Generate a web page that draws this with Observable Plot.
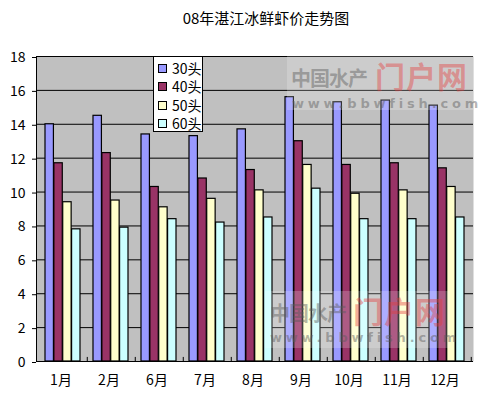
<!DOCTYPE html>
<html>
<head>
<meta charset="utf-8">
<script src="https://cdn.jsdelivr.net/npm/d3@7"></script>
<script src="https://cdn.jsdelivr.net/npm/@observablehq/plot@0.6"></script>
<style>
  html, body { margin: 0; padding: 0; background: #fff; }
  #wrap { position: relative; width: 498px; height: 399px; overflow: hidden; font-family: "Noto Sans CJK SC", sans-serif; }
  #title { position: absolute; top: 7px; left: 266px; transform: translateX(-50%); font-size: 15px; white-space: nowrap; color: #000; }
  #chart { position: absolute; left: 0; top: 0; }
  #legend { position: absolute; left: 153px; top: 56px; width: 48px; height: 74px; border: 1px solid #000; background: #fff; }
  .li { position: absolute; left: 4px; height: 18px; line-height: 18px; font-size: 14px; white-space: nowrap; }
  .sw { display: inline-block; width: 7px; height: 7px; border: 1px solid #000; margin-right: 5px; vertical-align: 1px; }
  .wm { position: absolute; background: rgba(255,255,255,0.2); pointer-events: none; }
  .wm div { white-space: nowrap; line-height: 1; }
  .wm .a { position: absolute; font-weight: bold; color: rgba(90,90,90,0.45); font-size: 20px; letter-spacing: -1px; }
  .wm .b { position: absolute; font-weight: bold; color: rgba(230,60,60,0.42); font-size: 30px; letter-spacing: 1px; }
  .wm .c { position: absolute; font-weight: bold; color: rgba(90,90,90,0.45); font-size: 13px; letter-spacing: 3.8px; font-family: "DejaVu Sans", sans-serif; }
</style>
</head>
<body>
<div id="wrap">
  <div id="chart"></div>
  <div id="title">08年湛江冰鲜虾价走势图</div>
  <div id="legend"></div>
  <div class="wm" style="left:287px;top:56px;width:186px;height:54px;">
    <div class="a" style="left:4px;top:12px;">中国水产</div>
    <div class="b" style="left:88px;top:4px;">门户网</div>
    <div class="c" style="left:5px;top:41px;">www.bbwfish.com</div>
  </div>
  <div class="wm" style="left:265px;top:291px;width:185px;height:57px;">
    <div class="a" style="left:5px;top:12px;">中国水产</div>
    <div class="b" style="left:88px;top:4px;">门户网</div>
    <div class="c" style="left:5px;top:40px;">www.bbwfish.com</div>
  </div>
</div>
<script>
const months = ["1月","2月","6月","7月","8月","9月","10月","11月","12月"];
const seriesNames = ["30头","40头","50头","60头"];
const s30 = [14.0, 14.5, 13.4, 13.3, 13.7, 15.6, 15.3, 15.4, 15.1];
const s40 = [11.7, 12.3, 10.3, 10.8, 11.3, 13.0, 11.6, 11.7, 11.4];
const s50 = [9.4, 9.5, 9.1, 9.6, 10.1, 11.6, 9.9, 10.1, 10.3];
const s60 = [7.8, 7.9, 8.4, 8.2, 8.5, 10.2, 8.4, 8.4, 8.5];
const yTicks = [0, 2, 4, 6, 8, 10, 12, 14, 16, 18];
const colors = ["#9999FF", "#993366", "#FFFFCC", "#CCFFFF"];

const series = [s30, s40, s50, s60];
const data = months.map((m, i) => ({month: m, v: series.map(s => s[i])}));

const width = 498, height = 399;
const mL = 36, mR = 25, mT = 56, mB = 38;
const pInner = 0.27;
const step = (width - mL - mR) / months.length;
const bw = step * (1 - pInner);
const q = bw / 4;

const bars = series.map((s, k) => Plot.barY(data, {
  x: "month",
  y: d => d.v[k],
  fill: colors[k],
  stroke: "#000",
  strokeWidth: 1.2,
  insetLeft: k * q,
  insetRight: (3 - k) * q
}));

const chart = Plot.plot({
  width, height,
  marginLeft: mL, marginRight: mR, marginTop: mT, marginBottom: mB,
  style: {fontFamily: "'Noto Sans CJK SC', sans-serif", fontSize: "14px", color: "#000", background: "transparent"},
  x: {type: "band", domain: months, paddingInner: pInner, paddingOuter: pInner / 2, label: null},
  y: {domain: [0, 18], label: null},
  marks: [
    Plot.frame({fill: "#C0C0C0", stroke: null}),
    Plot.ruleY(yTicks, {stroke: "#000", strokeWidth: 1}),
    ...bars,
    Plot.ruleX(months, {x: d => d, dx: step / 2, y1: 0, y2: 0.24, stroke: "#000"}),
    Plot.frame({anchor: "left", stroke: "#000"}),
    Plot.ruleY([0], {stroke: "#000", strokeWidth: 1.2}),
    Plot.axisY(yTicks, {tickSize: 4, tickPadding: 7, fontSize: 14, tickFormat: d => String(d), dy: 1}),
    Plot.axisX({tickSize: 0, tickPadding: 14, fontSize: 14, dx: -2})
  ]
});
document.getElementById("chart").appendChild(chart);

const legend = document.getElementById("legend");
seriesNames.forEach((n, k) => {
  const row = document.createElement("div");
  row.className = "li";
  row.style.top = (2 + k * 18.3) + "px";
  row.innerHTML = `<span class="sw" style="background:${colors[k]}"></span>${n}`;
  legend.appendChild(row);
});
</script>
</body>
</html>
